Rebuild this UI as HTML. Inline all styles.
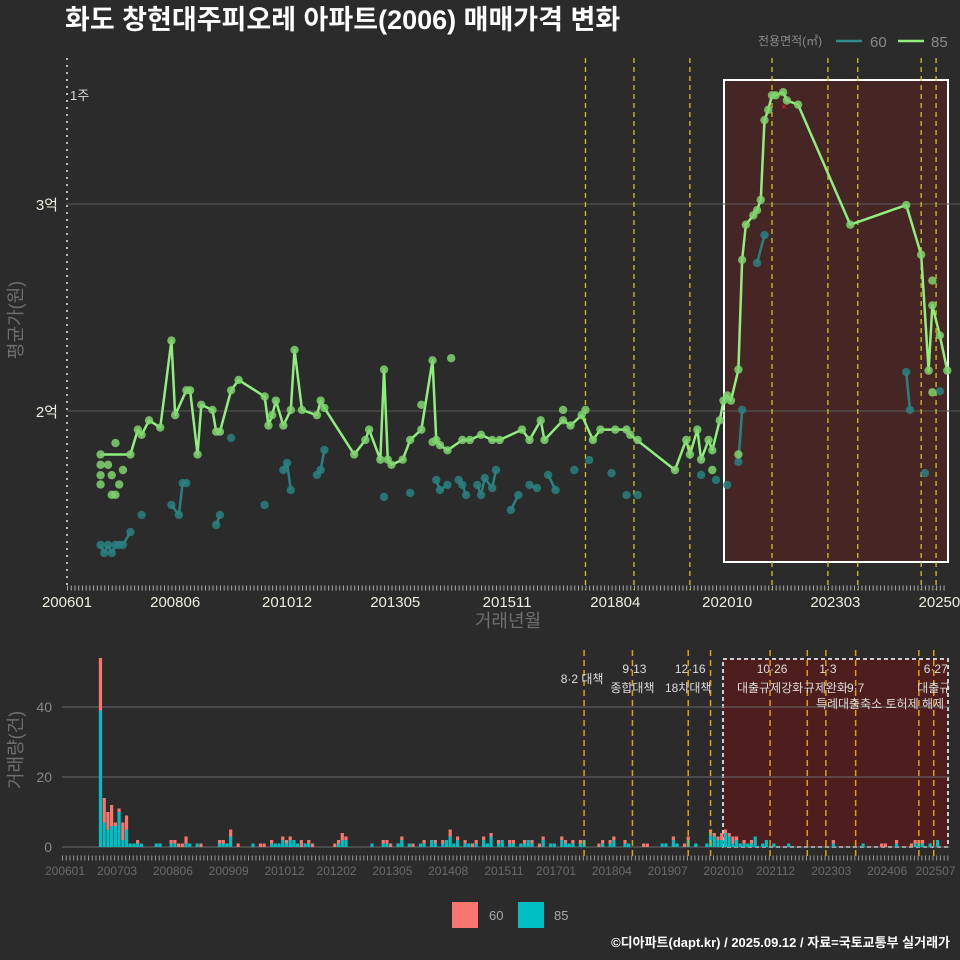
<!DOCTYPE html>
<html><head><meta charset="utf-8">
<style>
html,body{margin:0;padding:0;background:#2b2b2b;}
svg{display:block;font-family:"Liberation Sans","Noto Sans CJK KR",sans-serif;}
</style></head>
<body>
<svg id="c" width="960" height="960" viewBox="0 0 960 960">
<rect x="0" y="0" width="960" height="960" fill="#2b2b2b"/>
<text x="65" y="29" fill="#ffffff" font-size="27" font-weight="bold">화도 창현대주피오레 아파트(2006) 매매가격 변화</text>
<text x="758" y="45" fill="#8a8a8a" font-size="12">전용면적(㎡)</text>
<line x1="836" y1="41" x2="862" y2="41" stroke="#2e8b8b" stroke-width="2.5"/>
<text x="870" y="47" fill="#8a8a8a" font-size="15">60</text>
<line x1="898" y1="41" x2="924" y2="41" stroke="#90ee7e" stroke-width="2.5"/>
<text x="931" y="47" fill="#8a8a8a" font-size="15">85</text>
<text transform="translate(22,320) rotate(-90)" text-anchor="middle" fill="#6f6f6f" font-size="18">평균가(원)</text>
<text x="508" y="627" text-anchor="middle" fill="#6f6f6f" font-size="18">거래년월</text>
<text transform="translate(22,750) rotate(-90)" text-anchor="middle" fill="#6f6f6f" font-size="18">거래량(건)</text>
<text x="70" y="100" fill="#dddddd" font-size="13">1주</text>
<rect x="452" y="902" width="26" height="26" fill="#f8766d"/>
<text x="489" y="920" fill="#aaaaaa" font-size="13">60</text>
<rect x="518" y="902" width="26" height="26" fill="#00bfc4"/>
<text x="554" y="920" fill="#aaaaaa" font-size="13">85</text>
<text x="950" y="947" text-anchor="end" fill="#ffffff" font-size="13" font-weight="bold">©디아파트(dapt.kr) / 2025.09.12 / 자료=국토교통부 실거래가</text>
<g id="top"></g>
<g id="bot"></g>
</svg>
<script>
// ---- data ----
const greenMonths=["200610","200706","200708","200709","200711","200802","200805","200806","200809","200810","200812","200901","200904","200905","200906","200909","200911","201006","201007","201008","201009","201011","201101","201102","201104","201108","201109","201110","201206","201209","201210","201301","201302","201303","201304","201307","201309","201312","201403","201404","201405","201407","201411","201501","201504","201507","201509","201603","201605","201608","201609","201702","201704","201707","201710","201712","201804","201807","201808","201908","201911","201912","202002","202003","202005","202006","202008","202009","202010","202011","202101","202102","202103","202105","202106","202107","202108","202109","202110","202111","202201","202202","202205","202307","202410","202502","202504","202505","202507","202509"];
const greenValues=[17900,17900,19100,18850,19550,19200,23400,19800,21000,21000,17900,20300,20050,19000,19000,21000,21500,20700,19300,19800,20500,19300,20050,22950,20050,19800,20500,20150,17900,18600,19100,17650,22000,17650,17400,17650,18600,19100,22450,18600,18350,18100,18600,18600,18850,18600,18600,19100,18600,19550,18600,19550,19300,19800,18600,19100,19100,19100,18850,17150,18600,17900,19100,17650,18600,18100,19550,20500,20750,20500,22000,27300,29000,29450,29700,30200,34050,34550,35250,35250,35400,35000,34800,29000,29950,27550,21950,25100,23650,21950];
const greenExtraMonths=["200610","200610","200610","200612","200701","200701","200702","200702","200703","200704","201408","201403","201312","201702","201708","201810","202006","202101","202505","202505"];
const greenExtraValues=[17400,16900,16450,17400,16900,15950,15950,18450,16450,17150,22550,18500,20300,20050,20050,18600,17150,17900,26300,20900];
const tealMonths=["200610","200611","200612","200701","200702","200703","200704","200706","200709","200805","200807","200808","200809","200905","200906","200909","201006","201011","201012","201101","201108","201109","201110","201302","201309","201404","201405","201407","201410","201411","201412","201503","201504","201505","201507","201508","201512","201602","201605","201607","201610","201612","201705","201709","201803","201807","201810","202003","202007","202010","202101","202102","202106","202108","202410","202411","202503","202507"];
const tealValues=[13530,13140,13530,13140,13530,13530,13530,14150,14980,15460,14980,16520,16520,14500,14980,18700,15460,17150,17490,16180,16910,17150,18120,15850,16040,16670,16180,16430,16670,16430,15940,16430,15940,16760,16280,17150,15220,15940,16430,16280,16910,16180,17150,17630,17000,15940,15940,16910,16670,16430,17540,20050,27150,28500,21880,20050,17000,20950];
const yTicks=[20000,30000];
const yTickLabels=["2억","3억"];
const xTickMonths=["200601","200806","201012","201305","201511","201804","202010","202303","202508"];
const policyMonths=["201708","201809","201912","202110","202301","202309","202502","202506"];
const barMonths=["200610","200611","200612","200701","200702","200703","200704","200705","200706","200707","200708","200709","200801","200802","200805","200806","200807","200808","200809","200810","200812","200901","200906","200907","200908","200909","200911","201003","201005","201006","201008","201009","201010","201011","201012","201101","201102","201103","201104","201105","201106","201107","201201","201202","201203","201204","201211","201302","201303","201304","201306","201307","201309","201310","201312","201401","201403","201404","201406","201407","201408","201409","201410","201412","201501","201502","201503","201505","201506","201507","201509","201510","201512","201601","201603","201604","201605","201606","201608","201609","201611","201612","201702","201703","201704","201705","201707","201708","201712","201801","201803","201804","201807","201808","201812","201901","201905","201906","201908","201909","201911","201912","202002","202005","202006","202007","202008","202009","202010","202011","202012","202101","202102","202103","202104","202105","202106","202108","202109","202111","202203","202303","202311","202404","202405","202408","202409","202412","202501","202502","202503","202505","202507"];
const bar85=[39,7,5,6,6,10,2,5,1,1,1,1,1,1,1,1,0,0,1,1,1,0,1,1,1,3,0,1,0,0,1,1,1,2,1,2,2,1,0,1,1,0,0,1,2,2,1,1,1,0,1,2,1,0,1,1,2,1,1,2,3,1,2,1,1,0,1,2,1,3,1,2,1,1,1,1,2,1,0,2,1,1,2,1,1,1,1,2,0,1,1,2,1,1,0,0,1,1,2,1,0,2,1,1,4,3,2,2,4,3,1,2,1,1,1,1,3,1,2,1,1,1,1,0,0,1,0,0,1,1,1,1,2];
const bar60=[15,7,5,6,1,1,5,4,0,0,1,0,0,0,1,1,1,1,2,0,0,1,1,1,0,2,1,0,1,1,1,0,0,1,1,1,0,0,2,0,1,1,1,1,2,1,0,1,1,1,0,1,0,1,0,1,0,1,1,0,2,0,1,1,0,1,1,1,0,1,1,0,1,1,0,1,0,1,1,1,0,0,1,1,0,1,1,0,1,1,1,1,1,0,1,1,0,0,1,0,1,1,0,0,1,1,1,2,1,1,2,1,0,1,0,1,0,0,0,0,0,1,0,1,1,1,0,1,1,1,1,0,0];
const volTicks=[0,20,40];
const barXTickMonths=["200601","200703","200806","200909","201012","201202","201305","201408","201511","201701","201804","201907","202010","202112","202303","202406","202507"];
const annoMonths=["201708","201809","201912","202110","202301","202309","202506"];
const annoLine1=["","9·13","12·16","10·26","1·3","","6·27"];
const annoLine2=["8·2 대책","종합대책","18차대책","대출규제강화","규제완화","9·7","대출규"];
const extraBotLines=["202006","202208","202502"];

// ---- scales ----
const NS="http://www.w3.org/2000/svg";
function mi(s){return (parseInt(s.slice(0,4))-2006)*12+parseInt(s.slice(4,6))-1;}
function xT(s){return 67+3.73*mi(s);}
function yT(v){return 411-(v-20000)*0.0207;}
function xB(s){return 67+3.72*mi(s);}
function yB(v){return 847-v*3.5;}
function mk(parent,tag,attrs){const el=document.createElementNS(NS,tag);for(const k in attrs)el.setAttribute(k,attrs[k]);parent.appendChild(el);return el;}
const topG=document.getElementById('top'), botG=document.getElementById('bot');

// ---- top panel ----
let e;
e=mk(topG,'rect',{x:724,y:80,width:224,height:482,fill:'rgba(120,25,25,0.35)',stroke:'#ffffff','stroke-width':2});


yTicks.forEach((v,i)=>{
  e=mk(topG,'line',{x1:67,x2:960,y1:yT(v),y2:yT(v),stroke:'#5a5a5a','stroke-width':1});
  
  
  e=mk(topG,'text',{x:58,y:yT(v)+6,'text-anchor':'end',fill:'#eeeedd','font-size':15});
  e.textContent=yTickLabels[i];
  
  
});
e=mk(topG,'line',{x1:67,x2:67,y1:58,y2:590,stroke:'#bbbbbb','stroke-width':2,'stroke-dasharray':'2,5'});


e=mk(topG,'line',{x1:67,x2:945,y1:588,y2:588,stroke:'#aaaaaa','stroke-width':5,'stroke-dasharray':'1,2.73'});


xTickMonths.forEach(m=>{
  e=mk(topG,'text',{x:xT(m),y:607,'text-anchor':'middle',fill:'#eeeedd','font-size':15});
  e.textContent=m;
  
  
});
policyMonths.forEach(m=>{
  e=mk(topG,'line',{x1:xT(m),x2:xT(m),y1:58,y2:590,stroke:'#d4c21a','stroke-width':1.3,'stroke-dasharray':'5,4'});
  
  
});
for(let i=1;i<tealMonths.length;i++){
  if(mi(tealMonths[i])-mi(tealMonths[i-1])<=2){
    e=mk(topG,'line',{x1:xT(tealMonths[i-1]),y1:yT(tealValues[i-1]),x2:xT(tealMonths[i]),y2:yT(tealValues[i]),stroke:'#2a8080','stroke-width':2.5});
    
    
  }
}
tealMonths.forEach((m,i)=>{
  e=mk(topG,'circle',{cx:xT(m),cy:yT(tealValues[i]),r:4.2,fill:'#2a8080','fill-opacity':0.85});
  
  
});
e=mk(topG,'polyline',{points:greenMonths.map((m,i)=>xT(m)+','+yT(greenValues[i])).join(' '),fill:'none',stroke:'#90ee7e','stroke-width':2.5,'stroke-linejoin':'round'});


greenMonths.forEach((m,i)=>{
  e=mk(topG,'circle',{cx:xT(m),cy:yT(greenValues[i]),r:4.2,fill:'#7fd36e','fill-opacity':0.85});
  
  
});
greenExtraMonths.forEach((m,i)=>{
  e=mk(topG,'circle',{cx:xT(m),cy:yT(greenExtraValues[i]),r:4.2,fill:'#7fd36e','fill-opacity':0.85});
  
  
});
e=mk(topG,'text',{x:784,y:110,'text-anchor':'middle',fill:'#ff2020','font-size':10});
e.textContent='×';



// ---- bottom panel ----
e=mk(botG,'rect',{x:723,y:659,width:225,height:188,fill:'#4e1e1e',stroke:'#cccccc','stroke-width':2,'stroke-dasharray':'4,3'});


volTicks.forEach(v=>{
  e=mk(botG,'line',{x1:62,x2:950,y1:yB(v),y2:yB(v),stroke:'#6a6a6a','stroke-width':1});
  
  
  e=mk(botG,'text',{x:52,y:yB(v)+5,'text-anchor':'end',fill:'#888888','font-size':14});
  e.textContent=v;
  
  
});
barMonths.forEach((m,i)=>{
  const x=xB(m)-1.6;
  e=mk(botG,'rect',{x:x,y:yB(bar85[i]),width:3.2,height:bar85[i]*3.5,fill:'#00bfc4'});
  
  
  e=mk(botG,'rect',{x:x,y:yB(bar85[i]+bar60[i]),width:3.2,height:bar60[i]*3.5,fill:'#f8766d'});
  
  
});
annoMonths.concat(extraBotLines).forEach(m=>{
  e=mk(botG,'line',{x1:xB(m),x2:xB(m),y1:650,y2:857,stroke:'#e0a010','stroke-width':1.5,'stroke-dasharray':'6,4'});
  
  
});
annoMonths.forEach((m,i)=>{
  const x=xB(m);
  e=mk(botG,'text',{x:x+2,y:673,'text-anchor':'middle',fill:'#dddddd','font-size':12});
  e.textContent=annoLine1[i];
  
  
  e=mk(botG,'text',{x:i===0?x-2:x,y:i===0?683:692,'text-anchor':'middle',fill:'#dddddd','font-size':12});
  e.textContent=annoLine2[i];
  
  
});
e=mk(botG,'text',{x:880,y:708,'text-anchor':'middle',fill:'#dddddd','font-size':12});
e.textContent='특례대출축소 토허제 해제';


e=mk(botG,'line',{x1:62,x2:950,y1:858,y2:858,stroke:'#999999','stroke-width':5,'stroke-dasharray':'1,2.72'});


barXTickMonths.forEach(m=>{
  e=mk(botG,'text',{x:xB(m)-2,y:875,'text-anchor':'middle',fill:'#6a6a6a','font-size':12});
  e.textContent=m;
  
  
});
</script>
</body></html>
